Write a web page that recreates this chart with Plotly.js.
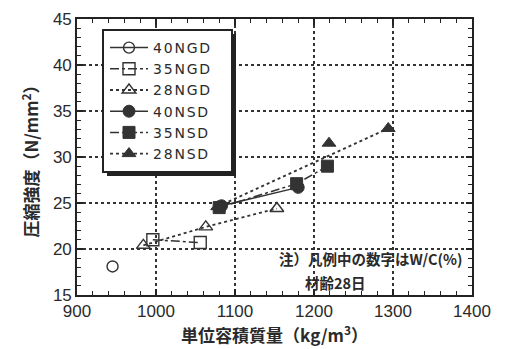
<!DOCTYPE html>
<html>
<head>
<meta charset="utf-8">
<script src="https://cdn.plot.ly/plotly-3.0.1.min.js"></script>
<style>
html,body{margin:0;padding:0;background:#fff;}
#chart{width:512px;height:349px;}
.legendtext{letter-spacing:1.8px;}
</style>
</head>
<body>
<div id="chart"></div>
<script>
// Data
var seriesNames = ["40NGD", "35NGD", "28NGD", "40NSD", "35NSD", "28NSD"];
var x40NGD = [945];
var y40NGD = [18.1];
var x35NGD = [996, 1056];
var y35NGD = [21.0, 20.7];
var x28NGD = [984, 1063, 1153];
var y28NGD = [20.4, 22.4, 24.4];
var x40NSD = [1083, 1180];
var y40NSD = [24.7, 26.7];
var x35NSD = [1080, 1178, 1217];
var y35NSD = [24.5, 27.1, 29.0];
var x28NSD = [1078, 1219, 1294];
var y28NSD = [24.6, 31.5, 33.1];
var noteLine1 = "注）凡例中の数字はW/C(%)";
var noteLine2 = "材齢28日";

var ink = "#333333";
function filled(sym, size) { return {symbol: sym, color: ink, size: size, line: {color: ink, width: 1}}; }

var traces = [
  {name: seriesNames[0], x: x40NGD, y: y40NGD, mode: "lines+markers",
   line: {color: ink, width: 1.5, dash: "solid"},
   marker: {symbol: "circle-open", size: 11, color: ink, line: {width: 1.4}}},
  {name: seriesNames[1], x: x35NGD, y: y35NGD, mode: "lines+markers",
   line: {color: ink, width: 1.5, dash: "dashdot"},
   marker: {symbol: "square-open", size: 12, color: ink, line: {width: 1.4}}},
  {name: seriesNames[2], x: x28NGD, y: y28NGD, mode: "lines+markers",
   line: {color: ink, width: 1.8, dash: "dot"},
   marker: {symbol: "triangle-up-open", size: 12, color: ink, line: {width: 1.4}}},
  {name: seriesNames[3], x: x40NSD, y: y40NSD, mode: "lines+markers",
   line: {color: ink, width: 1.5, dash: "solid"},
   marker: filled("circle", 12)},
  {name: seriesNames[4], x: x35NSD, y: y35NSD, mode: "lines+markers",
   line: {color: ink, width: 1.5, dash: "dashdot"},
   marker: filled("square", 12)},
  {name: seriesNames[5],
   x: [x28NSD[0], x28NSD[2], null, x28NSD[1]],
   y: [y28NSD[0], y28NSD[2], null, y28NSD[1]],
   mode: "lines+markers", connectgaps: false,
   line: {color: ink, width: 1.8, dash: "dot"},
   marker: filled("triangle-up", 12)}
];

var axisFont = {family: "Liberation Sans, Arial, sans-serif", size: 17, color: "#2a2a2a"};
var cjkBold = "Noto Sans CJK JP, sans-serif";

// legend frame + drop shadow (decoration), paper coordinates
var L = 77, T = 19, W = 395, H = 276;
function px(p) { return (p - L) / W; }
function py(p) { return (T + H - p) / H; }

var layout = {
  width: 512, height: 349,
  margin: {l: L, r: 512 - L - W, t: T, b: 349 - T - H},
  paper_bgcolor: "#ffffff", plot_bgcolor: "#ffffff",
  showlegend: true,
  legend: {
    x: px(105), y: py(32), xanchor: "left", yanchor: "top",
    bgcolor: "rgba(0,0,0,0)", borderwidth: 0,
    font: {family: "DejaVu Sans, sans-serif", size: 14, color: "#2a2a2a"},
    tracegroupgap: 0, itemwidth: 38
  },
  shapes: [
    {type: "rect", xref: "paper", yref: "paper", layer: "above",
     x0: px(107), x1: px(236), y0: py(176), y1: py(34),
     fillcolor: "#222222", line: {width: 0}},
    {type: "rect", xref: "paper", yref: "paper", layer: "above",
     x0: px(103), x1: px(232), y0: py(172), y1: py(30),
     fillcolor: "#ffffff", line: {color: "#222222", width: 2}}
  ],
  xaxis: {
    range: [900, 1400], dtick: 100, tick0: 900,
    showline: true, linecolor: "#222", linewidth: 1.8, mirror: "ticks",
    ticks: "inside", ticklen: 6, tickcolor: "#222", tickwidth: 1.2,
    minor: {dtick: 20, ticks: "inside", ticklen: 4, tickcolor: "#222", tickwidth: 1, showgrid: false},
    showgrid: true, gridcolor: "#333", gridwidth: 1.6, griddash: "dot",
    zeroline: false, tickfont: axisFont,
    title: {text: "<b>単位容積質量（kg/m<sup>3</sup>）</b>", font: {family: cjkBold, size: 17, color: "#2a2a2a"}, standoff: 4}
  },
  yaxis: {
    range: [15, 45], dtick: 5, tick0: 15,
    showline: true, linecolor: "#222", linewidth: 1.8, mirror: "ticks",
    ticks: "inside", ticklen: 6, tickcolor: "#222", tickwidth: 1.2,
    minor: {dtick: 1, ticks: "inside", ticklen: 4, tickcolor: "#222", tickwidth: 1, showgrid: false},
    showgrid: true, gridcolor: "#333", gridwidth: 1.6, griddash: "dot",
    zeroline: false, tickfont: axisFont,
    title: {text: "<b>圧縮強度（N/mm<sup>2</sup>）</b>", font: {family: cjkBold, size: 17, color: "#2a2a2a"}, standoff: 10}
  },
  annotations: [
    {text: "<b>" + noteLine1 + "</b>", x: 1153, y: 19.0, xref: "x", yref: "y",
     xanchor: "left", yanchor: "middle", showarrow: false,
     font: {family: cjkBold, size: 14.5, color: "#2a2a2a"}},
    {text: "<b>" + noteLine2 + "</b>", x: 1186, y: 16.4, xref: "x", yref: "y",
     xanchor: "left", yanchor: "middle", showarrow: false,
     font: {family: cjkBold, size: 14.5, color: "#2a2a2a"}}
  ]
};

Plotly.newPlot("chart", traces, layout, {staticPlot: true, displayModeBar: false});
</script>
</body>
</html>
